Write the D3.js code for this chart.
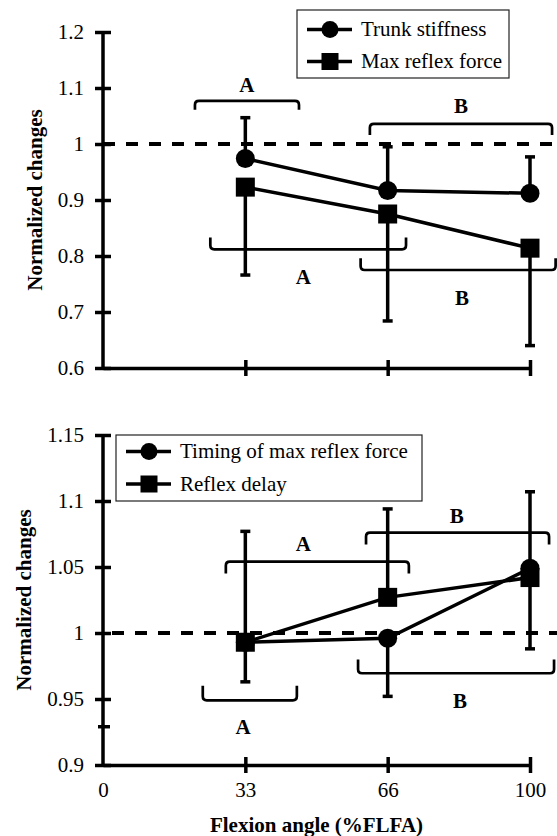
<!DOCTYPE html>
<html>
<head>
<meta charset="utf-8">
<script src="https://cdn.jsdelivr.net/npm/d3@7"></script>
<style>
    body { margin: 0; background: #fff; }
    svg text { font-family: "Liberation Serif", "Times New Roman", serif !important; fill: #000; }
    .axis path, .axis line { stroke: #000; stroke-width: 3.5; }
    .axis text { font-size: 21px; }
    .title { font-size: 21px; font-weight: bold; }
    .sig { font-size: 21px; font-weight: bold; }
    .legend text { font-size: 21px; }
</style>
</head>
<body>
<svg id="chart"></svg>
<script>
    // x categories (% of full lumbar flexion angle)
    const angles = ["0", "33", "66", "100"];
    const dataAngles = ["33", "66", "100"];

    // top panel
    const trunkStiffness = [0.974, 0.917, 0.912];
    const trunkStiffnessErrUp = [0.073, 0.078, 0.065];
    const maxReflexForce = [0.923, 0.875, 0.814];
    const maxReflexForceErrDown = [0.157, 0.191, 0.174];
    const topTicks = [0.6, 0.7, 0.8, 0.9, 1, 1.1, 1.2];

    // bottom panel
    const timingMaxForce = [0.993, 0.996, 1.049];
    const timingMaxForceErrDown = [0.030, 0.044, 0.061];
    const reflexDelay = [0.993, 1.027, 1.042];
    const reflexDelayErrUp = [0.084, 0.067, 0.065];
    const bottomTicks = [0.9, 0.95, 1, 1.05, 1.1, 1.15];
    const bottomExtraTick = [0.929];

    // significance brackets: [x0, x1] in category index, line level, end level, label
    const topBrackets = [
        { label: "A", x0: 0.646, x1: 1.377, line: 1.077, end: 1.061, lx: 1.01, ly: 1.106 },
        { label: "B", x0: 1.875, x1: 3.155, line: 1.036, end: 1.016, lx: 2.515, ly: 1.068 },
        { label: "A", x0: 0.754, x1: 2.129, line: 0.812, end: 0.833, lx: 1.407, ly: 0.763 },
        { label: "B", x0: 1.81, x1: 3.18, line: 0.775, end: 0.796, lx: 2.522, ly: 0.725 }
    ];
    const bottomBrackets = [
        { label: "A", x0: 0.863, x1: 2.149, line: 1.054, end: 1.045, lx: 1.407, ly: 1.068 },
        { label: "B", x0: 1.848, x1: 3.134, line: 1.076, end: 1.067, lx: 2.485, ly: 1.0886 },
        { label: "A", x0: 0.701, x1: 1.362, line: 0.949, end: 0.960, lx: 0.984, ly: 0.929 },
        { label: "B", x0: 1.792, x1: 3.169, line: 0.9695, end: 0.980, lx: 2.508, ly: 0.9487 }
    ];

    const width = 557, height = 836;
    const svg = d3.select("#chart").attr("width", width).attr("height", height);
    svg.append("rect").attr("width", width).attr("height", height).attr("fill", "#fff");

    const x = d3.scalePoint().domain(angles).range([103, 530]);
    const xi = d3.scaleLinear().domain([0, angles.length - 1]).range([103, 530]);

    function drawPanel(opts) {
        const y = d3.scaleLinear().domain(opts.domain).range(opts.range);
        const g = svg.append("g");

        // reference line at 1
        g.append("line")
            .attr("x1", opts.dashStart).attr("x2", width)
            .attr("y1", y(1)).attr("y2", y(1))
            .attr("stroke", "#000").attr("stroke-width", 4)
            .attr("stroke-dasharray", "12 11");

        // y axis with ticks crossing the line
        const yAxis = g.append("g").attr("class", "axis")
            .attr("transform", `translate(${x("0")},0)`)
            .call(d3.axisLeft(y).tickValues(opts.ticks).tickSize(8).tickSizeOuter(0).tickPadding(11)
                .tickFormat(d => d3.format("")(+d.toFixed(2))));
        yAxis.attr("font-family", null);
        yAxis.selectAll(".tick line").attr("x1", -8).attr("x2", 8);
        yAxis.select(".domain").attr("d", `M0,${y.range()[0]}V${y.range()[1]}`);
        yAxis.selectAll(".extra").data(opts.extraTicks || []).enter().append("line")
            .attr("x1", -5).attr("x2", 7).attr("y1", d => y(d)).attr("y2", d => y(d))
            .attr("stroke", "#000").attr("stroke-width", 3.5);

        // x axis
        const xAxis = g.append("g").attr("class", "axis")
            .attr("transform", `translate(0,${y.range()[0]})`)
            .call(d3.axisBottom(x).tickSize(8).tickSizeOuter(0).tickPadding(9));
        xAxis.attr("font-family", null);
        xAxis.selectAll(".tick line").attr("y1", -8).attr("y2", 8);
        xAxis.selectAll(".tick").filter(d => d === "0").select("line").remove();
        if (!opts.xLabels) xAxis.selectAll(".tick text").remove();

        // y title
        g.append("text").attr("class", "title")
            .attr("transform", `translate(${opts.titleX},${(y.range()[0] + y.range()[1]) / 2}) rotate(-90)`)
            .attr("text-anchor", "middle").attr("dy", "0.35em")
            .text("Normalized changes");

        // significance brackets
        const r = 4;
        opts.brackets.forEach(b => {
            const x0 = xi(b.x0), x1 = xi(b.x1), yl = y(b.line), ye = y(b.end);
            const s = Math.sign(ye - yl);
            g.append("path")
                .attr("d", `M${x0},${ye}L${x0},${yl + s * r}Q${x0},${yl} ${x0 + r},${yl}` +
                    `L${x1 - r},${yl}Q${x1},${yl} ${x1},${yl + s * r}L${x1},${ye}`)
                .attr("fill", "none").attr("stroke", "#000").attr("stroke-width", 2.7);
            g.append("text").attr("class", "sig")
                .attr("x", xi(b.lx)).attr("y", y(b.ly)).attr("dy", "0.35em")
                .attr("text-anchor", "middle").text(b.label);
        });

        const line = d3.line().x((d, i) => x(dataAngles[i])).y(d => y(d));
        opts.series.forEach(s => {
            g.append("path").datum(s.values).attr("d", line)
                .attr("fill", "none").attr("stroke", "#000").attr("stroke-width", 3.5);
        });

        // error bars (one-sided)
        opts.series.forEach(s => {
            s.values.forEach((v, i) => {
                const cx = x(dataAngles[i]);
                const yEnd = y(v + s.dir * s.err[i]);
                g.append("line").attr("x1", cx).attr("x2", cx).attr("y1", y(v)).attr("y2", yEnd)
                    .attr("stroke", "#000").attr("stroke-width", 3.5);
                g.append("line").attr("x1", cx - 5).attr("x2", cx + 5).attr("y1", yEnd).attr("y2", yEnd)
                    .attr("stroke", "#000").attr("stroke-width", 3.5);
            });
        });

        // markers
        opts.series.forEach(s => {
            s.values.forEach((v, i) => drawMarker(g, s.marker, x(dataAngles[i]), y(v), 9.5));
        });

        // legend
        const lg = g.append("g").attr("class", "legend");
        const L = opts.legend;
        lg.append("rect").attr("x", L.x).attr("y", L.y).attr("width", L.w).attr("height", L.h)
            .attr("fill", "#fff").attr("stroke", "#222").attr("stroke-width", 1.2);
        opts.series.forEach((s, i) => {
            const ly = L.rows[i];
            lg.append("line").attr("x1", L.x + 10).attr("x2", L.x + 55).attr("y1", ly).attr("y2", ly)
                .attr("stroke", "#000").attr("stroke-width", 3.5);
            drawMarker(lg, s.marker, L.x + 33, ly, 8.5);
            lg.append("text").attr("x", L.x + 64).attr("y", ly).attr("dy", "0.33em").text(s.name);
        });
    }

    function drawMarker(g, type, cx, cy, r) {
        if (type === "circle") {
            g.append("circle").attr("cx", cx).attr("cy", cy).attr("r", r).attr("fill", "#000");
        } else {
            g.append("rect").attr("x", cx - r).attr("y", cy - r).attr("width", 2 * r).attr("height", 2 * r)
                .attr("fill", "#000");
        }
    }

    drawPanel({
        domain: [0.6, 1.2], range: [368, 32], ticks: topTicks, xLabels: false,
        titleX: 35, dashStart: 103,
        brackets: topBrackets,
        series: [
            { name: "Trunk stiffness", values: trunkStiffness, err: trunkStiffnessErrUp, dir: 1, marker: "circle" },
            { name: "Max reflex force", values: maxReflexForce, err: maxReflexForceErrDown, dir: -1, marker: "square" }
        ],
        legend: { x: 297, y: 10, w: 212, h: 68, rows: [29.5, 61.5] }
    });

    drawPanel({
        domain: [0.9, 1.15], range: [765, 435], ticks: bottomTicks, extraTicks: bottomExtraTick, xLabels: true,
        titleX: 24, dashStart: 112,
        brackets: bottomBrackets,
        series: [
            { name: "Timing of max reflex force", values: timingMaxForce, err: timingMaxForceErrDown, dir: -1, marker: "circle" },
            { name: "Reflex delay", values: reflexDelay, err: reflexDelayErrUp, dir: 1, marker: "square" }
        ],
        legend: { x: 116, y: 435, w: 306, h: 66, rows: [451.5, 484] }
    });

    svg.append("text").attr("class", "title")
        .attr("x", xi(1.5)).attr("y", 825).attr("dy", "0.35em").attr("text-anchor", "middle")
        .text("Flexion angle (%FLFA)");
</script>
</body>
</html>
